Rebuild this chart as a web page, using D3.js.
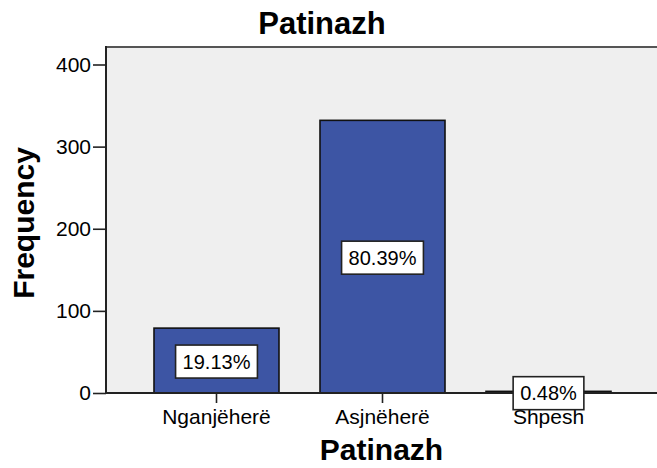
<!DOCTYPE html>
<html>
<head>
<meta charset="utf-8">
<script src="https://cdn.jsdelivr.net/npm/d3@7"></script>
<style>
  html, body { margin: 0; padding: 0; background: #ffffff; }
  svg { display: block; }
  text { font-family: "Liberation Sans", Arial, sans-serif; fill: #000; }
</style>
</head>
<body>
<svg id="chart" width="657" height="468"></svg>
<script>
// Frequencies of the "Patinazh" answers
const categories = ["Nganjëherë", "Asjnëherë", "Shpesh"];
const counts = [79, 332, 2];
const yTicks = [0, 100, 200, 300, 400];
const chartTitle = "Patinazh";
const xTitle = "Patinazh";
const yTitle = "Frequency";

const total = d3.sum(counts);
const percentLabels = counts.map(c => (c / total * 100).toFixed(2) + "%");

const plot = { left: 106, top: 47, right: 700, bottom: 393 };

const svg = d3.select("#chart");

const y = d3.scaleLinear().domain([0, 400]).range([393, 64.5]);
const x = d3.scaleBand()
  .domain(categories)
  .range([133.5, 631.5])
  .paddingInner(0.247)
  .paddingOuter(0.1235);

// plot background
svg.append("rect")
  .attr("x", plot.left).attr("y", plot.top)
  .attr("width", plot.right - plot.left).attr("height", plot.bottom - plot.top)
  .attr("fill", "#efefef");

// bars
svg.append("g").selectAll("rect")
  .data(categories)
  .join("rect")
  .attr("x", d => x(d))
  .attr("y", (d, i) => y(counts[i]))
  .attr("width", x.bandwidth())
  .attr("height", (d, i) => y(0) - y(counts[i]))
  .attr("fill", "#3d55a4")
  .attr("stroke", "#111")
  .attr("stroke-width", 1.6);

// frame: top edge
svg.append("line")
  .attr("x1", plot.left).attr("x2", plot.right)
  .attr("y1", plot.top).attr("y2", plot.top)
  .attr("stroke", "#555").attr("stroke-width", 2.2);

// y axis
const yAxis = d3.axisLeft(y).tickValues(yTicks).tickSize(13).tickPadding(2).tickSizeOuter(0);
const gy = svg.append("g").attr("transform", `translate(${plot.left},0)`).call(yAxis);
gy.select(".domain").remove();
gy.selectAll(".tick line").attr("stroke", "#222").attr("stroke-width", 1.6);
gy.selectAll(".tick text").attr("font-size", 21).attr("font-family", "Liberation Sans, Arial, sans-serif").attr("fill", "#111");
svg.append("line")
  .attr("x1", plot.left).attr("x2", plot.left)
  .attr("y1", plot.top - 1).attr("y2", plot.bottom)
  .attr("stroke", "#222").attr("stroke-width", 2);

// x axis
const xAxis = d3.axisBottom(x).tickSize(10).tickPadding(6).tickSizeOuter(0);
const gx = svg.append("g").attr("transform", `translate(0,${plot.bottom})`).call(xAxis);
gx.select(".domain").remove();
gx.selectAll(".tick line").attr("stroke", "#222").attr("stroke-width", 1.6);
gx.selectAll(".tick text").attr("font-size", 21).attr("font-family", "Liberation Sans, Arial, sans-serif").attr("fill", "#111");
svg.append("line")
  .attr("x1", plot.left).attr("x2", plot.right)
  .attr("y1", plot.bottom).attr("y2", plot.bottom)
  .attr("stroke", "#222").attr("stroke-width", 2);

// percentage labels in boxes at bar mid-height
const labels = svg.append("g").selectAll("g")
  .data(categories)
  .join("g")
  .attr("transform", (d, i) => `translate(${x(d) + x.bandwidth() / 2},${(y(0) + y(counts[i])) / 2 + 1})`);

labels.append("rect").attr("class", "box");
labels.append("text")
  .attr("text-anchor", "middle")
  .attr("dy", "0.36em")
  .attr("font-size", 20)
  .text((d, i) => percentLabels[i]);
labels.each(function () {
  const g = d3.select(this);
  const w = g.select("text").node().getComputedTextLength() + 14;
  g.select("rect")
    .attr("x", -w / 2).attr("y", -16.5)
    .attr("width", w).attr("height", 33)
    .attr("fill", "#fff").attr("stroke", "#222").attr("stroke-width", 1.6);
});

// titles
svg.append("text")
  .attr("x", 322).attr("y", 34)
  .attr("text-anchor", "middle")
  .attr("font-size", 31).attr("font-weight", "bold")
  .text(chartTitle);

svg.append("text")
  .attr("x", 381.5).attr("y", 460)
  .attr("text-anchor", "middle")
  .attr("font-size", 30).attr("font-weight", "bold")
  .text(xTitle);

svg.append("text")
  .attr("transform", "translate(33.5,223) rotate(-90)")
  .attr("text-anchor", "middle")
  .attr("font-size", 30).attr("font-weight", "bold")
  .text(yTitle);
</script>
</body>
</html>
